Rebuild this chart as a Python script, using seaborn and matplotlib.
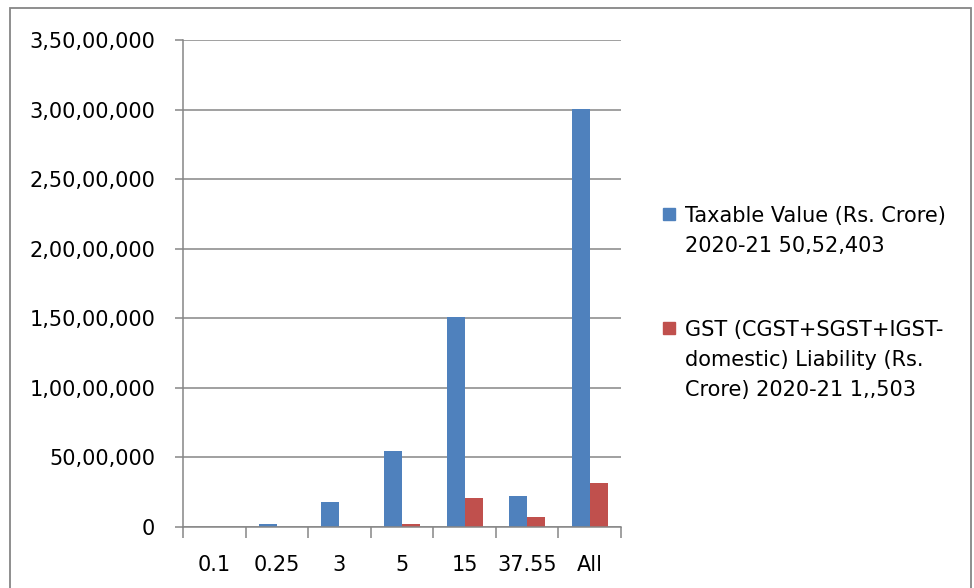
import matplotlib
matplotlib.use("Agg")
import matplotlib.pyplot as plt
from matplotlib.patches import Rectangle
from matplotlib.ticker import FuncFormatter, MultipleLocator
import pandas as pd
import seaborn as sns

# Tax slab (%) categories
slabs = ["0.1", "0.25", "3", "5", "15", "37.55", "All"]

# Taxable value and GST liability per slab (Rs. Crore)
taxable_value = [5000, 200000, 1820000, 5450000, 15100000, 2230000, 30050000]
gst_liability = [0, 10000, 20000, 200000, 2080000, 720000, 3190000]

series_names = [
    "Taxable Value (Rs. Crore)\n2020-21 50,52,403",
    "GST (CGST+SGST+IGST-\ndomestic) Liability (Rs.\nCrore) 2020-21 1,,503",
]
series_colors = ["#4F81BD", "#C0504D"]

df = pd.DataFrame({
    "slab": slabs * 2,
    "value": taxable_value + gst_liability,
    "series": [series_names[0]] * len(slabs) + [series_names[1]] * len(slabs),
})


def indian_format(v, _pos=None):
    s = str(int(round(v)))
    if len(s) <= 3:
        return s
    head, tail = s[:-3], s[-3:]
    groups = []
    while len(head) > 2:
        groups.insert(0, head[-2:])
        head = head[:-2]
    if head:
        groups.insert(0, head)
    return ",".join(groups + [tail])


sns.set_style("white")
plt.rcParams["font.family"] = ["DejaVu Sans"]

W, H = 974, 588
fig = plt.figure(figsize=(W / 100, H / 100), dpi=100)
ax = fig.add_axes([183 / W, 1 - 527 / H, (621 - 183) / W, (527 - 40) / H])

sns.barplot(
    data=df, x="slab", y="value", hue="series", order=slabs,
    hue_order=series_names, palette=series_colors, width=0.575,
    saturation=1, legend=False, ax=ax, linewidth=0,
)

grey = "#868686"
ax.set_ylim(0, 35000000)
ax.set_xlim(-0.5, len(slabs) - 0.5)
ax.yaxis.set_major_locator(MultipleLocator(5000000))
ax.yaxis.set_major_formatter(FuncFormatter(indian_format))
ax.yaxis.grid(True, color=grey, linewidth=1.1)
ax.set_axisbelow(True)
ax.set_xlabel("")
ax.set_ylabel("")

for side in ["top", "right"]:
    ax.spines[side].set_visible(False)
for side in ["left", "bottom"]:
    ax.spines[side].set_color(grey)
    ax.spines[side].set_linewidth(1.1)

# category boundary ticks on x, labels centred between them
ax.set_xticks([i - 0.5 for i in range(len(slabs) + 1)], minor=False)
ax.set_xticklabels([""] * (len(slabs) + 1))
ax.set_xticks(range(len(slabs)), minor=True)
ax.set_xticklabels(slabs, minor=True)
ax.tick_params(axis="x", which="major", direction="out", length=8,
               width=1.1, color=grey, bottom=True)
ax.tick_params(axis="x", which="minor", length=0, pad=20, labelsize=15,
               labelcolor="#000000")
ax.tick_params(axis="y", direction="out", length=6, width=1.1, color=grey,
               left=True, pad=14, labelsize=15, labelcolor="#000000")

# legend drawn in figure pixels
legend_items = [(series_names[0], series_colors[0], 214),
                (series_names[1], series_colors[1], 328)]
for name, color, yc in legend_items:
    fig.patches.append(Rectangle((663 / W, 1 - (yc + 6) / H), 12 / W, 12 / H,
                                 transform=fig.transFigure, color=color))
    fig.text(685 / W, 1 - (yc - 8) / H, name, fontsize=15, va="top",
             ha="left", linespacing=1.62, color="#000000")

# chart-area frame
fig.patches.append(Rectangle((10 / W, -0.05), (971 - 10) / W, 1 - 8 / H + 0.05,
                             transform=fig.transFigure, fill=False,
                             edgecolor=grey, linewidth=1.3))

fig.savefig("out.png", dpi=100)
